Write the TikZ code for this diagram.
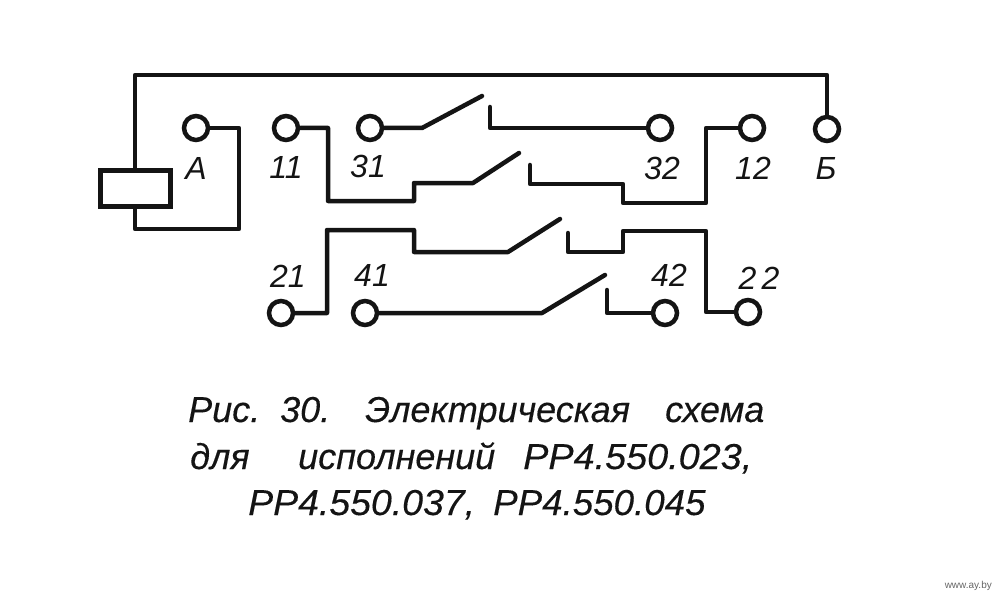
\documentclass[tikz,border=0pt]{standalone}
\usepackage{graphicx}
\usepackage{fontspec}
\setmainfont{Liberation Sans}
\newfontfamily\capf{Liberation Sans}[ItalicFeatures={FakeBold=0.25}]
\newcommand{\widetxt}[2][1.05]{\scalebox{#1}[1]{#2}}
\begin{document}
\begin{tikzpicture}[x=1pt,y=-1pt,
  wire/.style={line width=4.5pt,line join=round,line cap=round,black!92},
  term/.style={circle,draw=black!92,line width=4.5pt,minimum size=24pt,inner sep=0pt,fill=white},
  coil/.style={rectangle,draw=black!92,line width=5pt,minimum width=70pt,minimum height=35pt,inner sep=0pt,fill=white},
  lab/.style={inner sep=0pt,font=\fontsize{32}{32}\selectfont\itshape,text=black!92},
  captxt/.style={inner sep=0pt,anchor=base west,font=\capf\fontsize{36}{36}\selectfont\itshape,text=black!92}]
\useasboundingbox (0,0) rectangle (1000,596);
\node[term] (A) at (196,128) {};
\node[term] (t11) at (286,128) {};
\node[term] (t31) at (370,128) {};
\node[term] (t32) at (660,128) {};
\node[term] (t12) at (752,128) {};
\node[term] (B) at (827,129) {};
\node[term] (t21) at (281,313) {};
\node[term] (t41) at (365,313) {};
\node[term] (t42) at (665,313) {};
\node[term] (t22) at (748,312) {};
\node[coil] (K) at (135,188.5) {};
\coordinate (f11) at (519,153);
\coordinate (f31) at (482,96);
\coordinate (f21) at (560,219);
\coordinate (f41) at (605,275);
\coordinate (c32) at (490,107);
\coordinate (c12) at (530,165);
\coordinate (c22) at (568,233);
\coordinate (c42) at (607,290);
\draw[wire] (K.north) -- (135,75) -- (827,75) -- (B.north);
\draw[wire] (K.south) -- (135,229) -- (239,229) -- (239,128) -- (A);
\draw[wire] (t31) -- (422,128) -- (f31);
\draw[wire] (t11) -- (328,128) -- (328,201) -- (414,201) -- (414,183) -- (473,183) -- (f11);
\draw[wire] (t21) -- (327,313) -- (327,230) -- (414,230) -- (414,252) -- (508,252) -- (f21);
\draw[wire] (t41) -- (542,313) -- (f41);
\draw[wire] (c32) -- (490,128) -- (t32);
\draw[wire] (c12) -- (530,184) -- (623,184) -- (623,203) -- (706,203) -- (706,128) -- (t12);
\draw[wire] (c22) -- (568,252) -- (623,252) -- (623,231) -- (706,231) -- (706,312) -- (t22);
\draw[wire] (c42) -- (607,313) -- (t42);
\node[lab] (lA) at (196,168) {A};
\node[lab] (l11) at (286,167) {11};
\node[lab] (l31) at (368,166) {31};
\node[lab] (l32) at (662,168) {32};
\node[lab] (l12) at (753,168) {12};
\node[lab] (lB) at (826,168) {Б};
\node[lab] (l21) at (288,276) {21};
\node[lab] (l41) at (372,275) {41};
\node[lab] (l42) at (669,275) {42};
\node[lab] (l22) at (759,278) {2\,2};
\node[captxt] (c1a) at (188,422) {Рис.};
\node[captxt] (c1b) at (280,422) {30.};
\node[captxt] (c1c) at (365,422) {Электрическая};
\node[captxt] (c1d) at (665,422) {схема};
\node[captxt] (c2a) at (190,469) {для};
\node[captxt] (c2b) at (298,469) {исполнений};
\node[captxt] (c2c) at (523,469) {\widetxt{РР4.550.023,}};
\node[captxt] (c3a) at (248,515) {\widetxt[1.04]{РР4.550.037,}};
\node[captxt] (c3b) at (493,515) {\widetxt[1.02]{РР4.550.045}};
\node[inner sep=0pt,anchor=base east,font=\fontsize{10}{10}\selectfont,text=black!60] (wm) at (992,588) {www.ay.by};
\end{tikzpicture}
\end{document}
